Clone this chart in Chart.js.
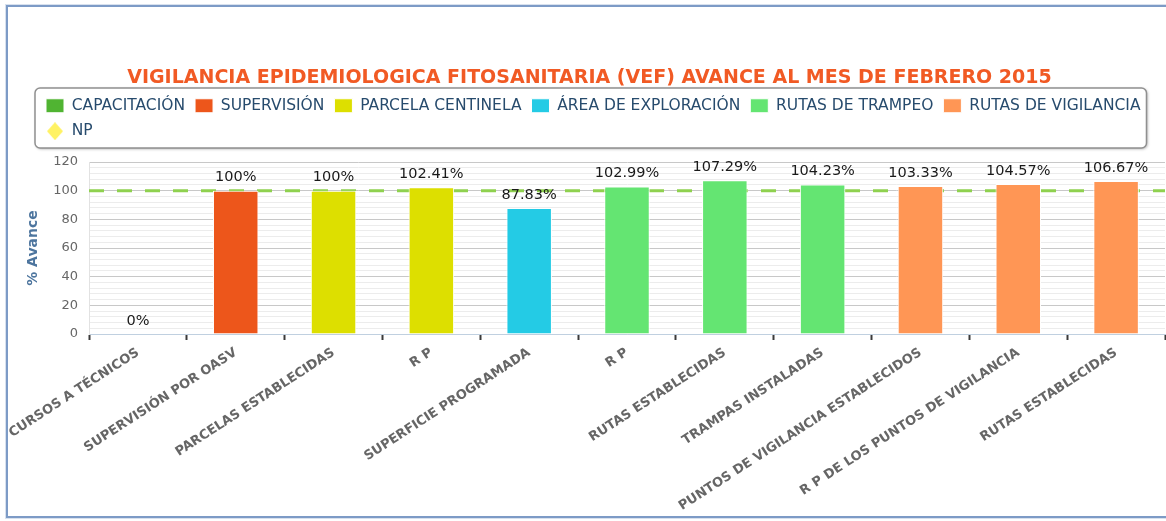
<!DOCTYPE html>
<html>
<head>
<meta charset="utf-8">
<script src="https://cdn.jsdelivr.net/npm/chart.js@4.4.1/dist/chart.umd.min.js"></script>
<style>
  html, body { margin: 0; padding: 0; background: #fff; overflow: hidden; }
  #wrap { position: relative; width: 1166px; height: 521px; overflow: hidden; }
  #chart { position: absolute; left: 0; top: 0; }
  #frame {
    position: absolute; left: 6px; top: 5px; width: 1400px; height: 509px;
    border: 2px solid #7d9bc6; box-shadow: 0 0 0 1px rgba(125, 155, 198, 0.3);
    pointer-events: none;
  }
</style>
</head>
<body>
<div id="wrap">
  <canvas id="chart" width="1166" height="521"></canvas>
  <div id="frame"></div>
</div>
<script>
const FONT = "'DejaVu Sans', Verdana, sans-serif";

// categories on the x axis
const categories = [
  "CURSOS A TÉCNICOS",
  "SUPERVISIÓN POR OASV",
  "PARCELAS ESTABLECIDAS",
  "R P",
  "SUPERFICIE PROGRAMADA",
  "R P",
  "RUTAS ESTABLECIDAS",
  "TRAMPAS INSTALADAS",
  "PUNTOS DE VIGILANCIA ESTABLECIDOS",
  "R P DE LOS PUNTOS DE VIGILANCIA",
  "RUTAS ESTABLECIDAS",
];

// % avance per series (null = category not in the series)
const capacitacion = [0, null, null, null, null, null, null, null, null, null, null];
const supervision = [null, 100, null, null, null, null, null, null, null, null, null];
const parcelaCentinela = [null, null, 100, 102.41, null, null, null, null, null, null, null];
const areaExploracion = [null, null, null, null, 87.83, null, null, null, null, null, null];
const rutasTrampeo = [null, null, null, null, null, 102.99, 107.29, 104.23, null, null, null];
const rutasVigilancia = [null, null, null, null, null, null, null, null, 103.33, 104.57, 106.67];
const np = [];

const seriesLabels = [
  "CAPACITACIÓN", "SUPERVISIÓN", "PARCELA CENTINELA", "ÁREA DE EXPLORACIÓN",
  "RUTAS DE TRAMPEO", "RUTAS DE VIGILANCIA", "NP",
];

// y axis
const Y_MIN = 0;
const Y_MAX = 120;
const Y_MINOR_STEP = 4;
const Y_MAJOR_STEP = 20;
const META = 100;

const COLORS = ["#50B432", "#ED561B", "#DDDF00", "#24CBE5", "#64E572", "#FF9655", "#FFF263"];

const LEGEND_SHIFT = 22;
const LEGEND_EXTRA = 13;

function diamond(size, color) {
  const c = document.createElement("canvas");
  c.width = size;
  c.height = size + 2;
  const g = c.getContext("2d");
  g.fillStyle = color;
  g.beginPath();
  g.moveTo(size / 2, 0);
  g.lineTo(size, c.height / 2);
  g.lineTo(size / 2, c.height);
  g.lineTo(0, c.height / 2);
  g.closePath();
  g.fill();
  return c;
}

const barSeries = [capacitacion, supervision, parcelaCentinela, areaExploracion, rutasTrampeo, rutasVigilancia];

const datasets = barSeries.map((data, i) => ({
  label: seriesLabels[i],
  data,
  backgroundColor: COLORS[i],
  borderColor: "#ffffff",
  borderWidth: 1,
  pointStyle: "rect",
}));

datasets.push({
  type: "line",
  label: seriesLabels[6],
  data: np,
  backgroundColor: COLORS[6],
  borderColor: COLORS[6],
  pointStyle: diamond(16, COLORS[6]),
  showLine: false,
});

const legendBox = {
  id: "legendBox",
  beforeInit(chart) {
    const legend = chart.legend;
    const fit = legend.fit;
    legend.fit = function () {
      this.maxWidth = Math.min(this.maxWidth, 1120);
      fit.call(this);
      this.height += LEGEND_EXTRA;
    };
  },
  afterLayout(chart) {
    const lg = chart.legend;
    const pad = lg.options.labels.padding;
    lg.left += LEGEND_SHIFT;
    lg.right = lg.left + pad + lg.lineWidths[0] + 1;
  },
  beforeDraw(chart) {
    const lg = chart.legend;
    const pad = lg.options.labels.padding;
    const x = lg.left + pad - 11;
    const w = Math.max(...lg.lineWidths) - pad + 17;
    const y = lg.top;
    const h = lg.height - LEGEND_EXTRA - 1;
    const { ctx } = chart;
    ctx.save();
    ctx.shadowColor = "rgba(0, 0, 0, 0.35)";
    ctx.shadowBlur = 3;
    ctx.shadowOffsetX = 1;
    ctx.shadowOffsetY = 1;
    ctx.beginPath();
    ctx.roundRect(x, y, w, h, 5);
    ctx.fillStyle = "#ffffff";
    ctx.fill();
    ctx.shadowColor = "transparent";
    ctx.lineWidth = 1.5;
    ctx.strokeStyle = "#909090";
    ctx.stroke();
    ctx.restore();
  },
};

const metaLine = {
  id: "metaLine",
  beforeDatasetsDraw(chart) {
    const { ctx, chartArea, scales } = chart;
    const y = scales.y.getPixelForValue(META);
    ctx.save();
    ctx.strokeStyle = "#8fd14f";
    ctx.lineWidth = 3;
    ctx.setLineDash([15, 13]);
    ctx.beginPath();
    ctx.moveTo(chartArea.left, y);
    ctx.lineTo(chartArea.right, y);
    ctx.stroke();
    ctx.restore();
  },
};

const valueLabels = {
  id: "valueLabels",
  afterDatasetsDraw(chart) {
    const { ctx } = chart;
    ctx.save();
    ctx.font = `14.5px ${FONT}`;
    ctx.fillStyle = "#1a1a1a";
    ctx.textAlign = "center";
    ctx.textBaseline = "middle";
    chart.data.datasets.forEach((ds, i) => {
      if (ds.type === "line") return;
      const meta = chart.getDatasetMeta(i);
      meta.data.forEach((bar, j) => {
        const v = ds.data[j];
        if (v == null) return;
        ctx.fillText(`${v}%`, bar.x, bar.y - 13);
      });
    });
    ctx.restore();
  },
};

new Chart(document.getElementById("chart"), {
  type: "bar",
  data: { labels: categories, datasets },
  options: {
    responsive: false,
    animation: false,
    events: [],
    layout: { padding: { left: 14, right: 1, top: 0, bottom: 0 }, autoPadding: false },
    datasets: {
      bar: { grouped: false, categoryPercentage: 1, barPercentage: 0.465 },
    },
    plugins: {
      title: {
        display: true,
        text: "VIGILANCIA EPIDEMIOLOGICA FITOSANITARIA (VEF) AVANCE AL MES DE FEBRERO 2015",
        color: "#F15A24",
        font: { family: FONT, size: 19, weight: "bold", lineHeight: 1 },
        padding: { top: 69, bottom: 0 },
      },
      legend: {
        position: "top",
        align: "start",
        labels: {
          color: "#274b6d",
          font: { family: FONT, size: 15.5 },
          usePointStyle: true,
          pointStyleWidth: 18,
          boxWidth: 18,
          boxHeight: 14,
          padding: 10,
        },
      },
      tooltip: { enabled: false },
    },
    scales: {
      x: {
        afterFit(scale) {
          scale.height = 187;
        },
        grid: {
          display: true,
          drawOnChartArea: false,
          drawTicks: true,
          tickLength: 6,
          tickWidth: 2,
          tickColor: "#3a3a3a",
          offset: true,
        },
        border: { display: true, color: "#C0D0E0", width: 1 },
        ticks: {
          autoSkip: false,
          minRotation: 33,
          maxRotation: 33,
          color: "#666666",
          padding: 5,
          font: { family: FONT, size: 13, weight: "bold" },
        },
      },
      y: {
        min: Y_MIN,
        max: Y_MAX,
        afterFit(scale) {
          scale.width = 75;
        },
        grid: {
          drawTicks: false,
          color: (ctx) => (ctx.tick && ctx.tick.value % Y_MAJOR_STEP === 0 ? "#c8c8c8" : "#ececec"),
        },
        border: { display: true, color: "#e2e2e2" },
        ticks: {
          autoSkip: false,
          stepSize: Y_MINOR_STEP,
          padding: 11,
          color: "#666666",
          font: { family: FONT, size: 13 },
          callback: (v) => (v % Y_MAJOR_STEP === 0 ? v : ""),
        },
        title: {
          display: true,
          text: "% Avance",
          color: "#4d759e",
          font: { family: FONT, size: 14, weight: "bold" },
          padding: { top: 10.6, bottom: 0 },
        },
      },
    },
  },
  plugins: [legendBox, metaLine, valueLabels],
});
</script>
</body>
</html>
